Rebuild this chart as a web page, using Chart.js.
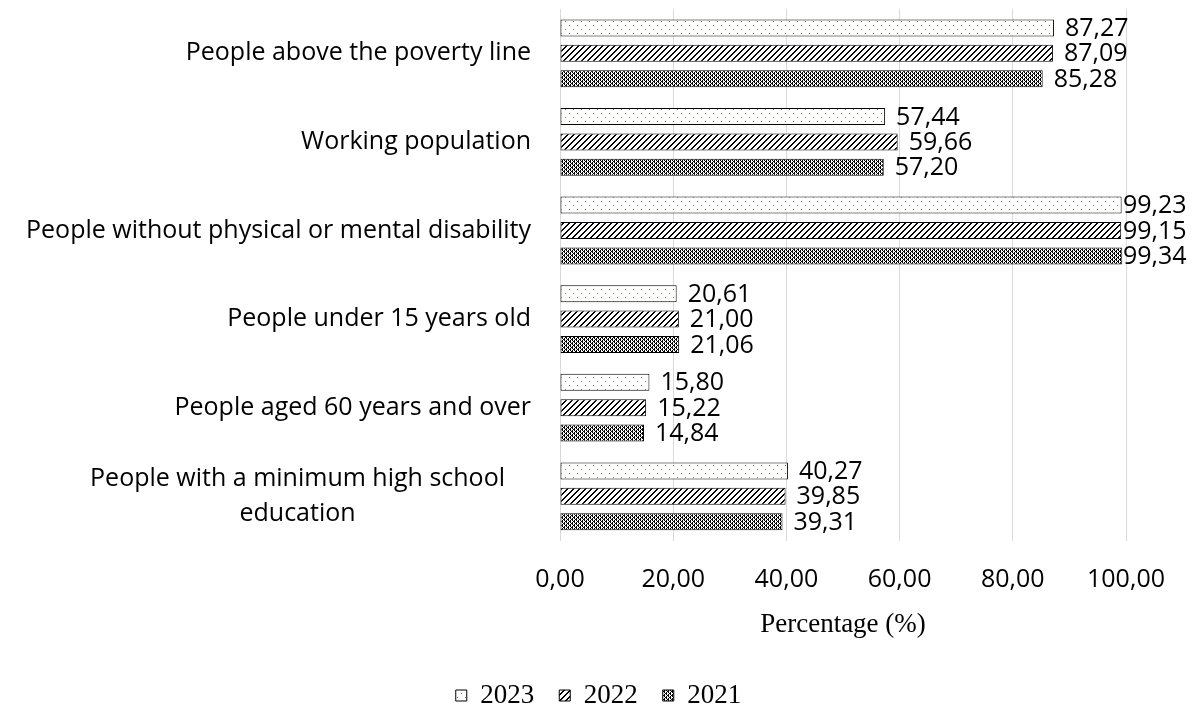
<!DOCTYPE html>
<html>
<head>
<meta charset="utf-8">
<script src="https://cdn.jsdelivr.net/npm/chart.js@4.4.1/dist/chart.umd.min.js"></script>
<style>
  html, body { margin: 0; padding: 0; background: #fff; }
  #wrap { width: 1197px; height: 707px; position: relative; }
</style>
</head>
<body>
<div id="wrap"><canvas id="chart"></canvas></div>
<script>
// categories, top to bottom
const categories = [
  'People above the poverty line',
  'Working population',
  'People without physical or mental disability',
  'People under 15 years old',
  'People aged 60 years and over',
  ['People with a minimum high school', 'education']
];
const years = ['2023', '2022', '2021'];
const values2023 = [87.27, 57.44, 99.23, 20.61, 15.80, 40.27];
const values2022 = [87.09, 59.66, 99.15, 21.00, 15.22, 39.85];
const values2021 = [85.28, 57.20, 99.34, 21.06, 14.84, 39.31];
const xTicks = [0, 20, 40, 60, 80, 100];

const LABEL_FONT = '"Open Sans", Lato, sans-serif';
const SERIF_FONT = '"Liberation Serif", "Times New Roman", serif';

// small canvas patterns, Excel-like fills
function makePattern(size, drawTile) {
  const c = document.createElement('canvas');
  c.width = size; c.height = size;
  const g = c.getContext('2d');
  g.fillStyle = '#fff';
  g.fillRect(0, 0, size, size);
  drawTile(g, size);
  return document.getElementById('chart').getContext('2d').createPattern(c, 'repeat');
}

const dotsFill = makePattern(8, (g) => {
  g.fillStyle = '#8a7b4c';
  g.fillRect(1, 1, 1, 1);
  g.fillRect(5, 5, 1, 1);
});

const hatchFill = makePattern(6, (g, s) => {
  g.fillStyle = '#000';
  for (let y = 0; y < s; y++) {
    const x = (s - 1 - y);
    g.fillRect(x, y, 2, 1);
    if (x + 1 >= s) g.fillRect(0, y, 1, 1);
  }
});

const checkFill = makePattern(4, (g) => {
  g.fillStyle = '#000';
  g.fillRect(0, 0, 1, 1);
  g.fillRect(2, 0, 1, 1);
  g.fillRect(1, 1, 2, 1);
  g.fillRect(0, 2, 1, 1);
  g.fillRect(2, 2, 1, 1);
  g.fillRect(3, 3, 1, 1);
  g.fillRect(0, 3, 1, 1);
});

const fmt = (v) => v.toFixed(2).replace('.', ',');

// value labels at the end of each bar
const valueLabels = {
  id: 'valueLabels',
  afterDatasetsDraw(chart) {
    const { ctx, chartArea } = chart;
    ctx.save();
    ctx.font = '25px ' + LABEL_FONT;
    ctx.fillStyle = '#000';
    ctx.textBaseline = 'middle';
    ctx.textAlign = 'left';
    chart.data.datasets.forEach((ds, i) => {
      chart.getDatasetMeta(i).data.forEach((bar, j) => {
        const x = Math.min(bar.x + 11, chartArea.right - 3);
        ctx.fillText(fmt(ds.data[j]), x, bar.y + 1);
      });
    });
    ctx.restore();
  }
};

// category labels: single lines right aligned, wrapped labels centred in a wider block
const categoryLabels = {
  id: 'categoryLabels',
  afterDraw(chart) {
    const { ctx, chartArea } = chart;
    const yScale = chart.scales.y;
    const right = chartArea.left - 29;
    const lineH = 35;
    const wrapExtra = 52;
    ctx.save();
    ctx.font = '25px ' + LABEL_FONT;
    ctx.fillStyle = '#000';
    ctx.textBaseline = 'middle';
    ctx.textAlign = 'center';
    categories.forEach((lab, i) => {
      const lines = Array.isArray(lab) ? lab : [lab];
      const maxW = Math.max(...lines.map(l => ctx.measureText(l).width));
      const blockW = lines.length > 1 ? maxW + wrapExtra : maxW;
      const cy = yScale.getPixelForValue(i);
      const y0 = cy - (lines.length - 1) * lineH / 2;
      lines.forEach((l, k) => ctx.fillText(l, right - blockW / 2, y0 + k * lineH));
    });
    ctx.restore();
  }
};

const fills = [dotsFill, hatchFill, checkFill];
const series = [values2023, values2022, values2021];

new Chart(document.getElementById('chart'), {
  type: 'bar',
  data: {
    labels: categories.map(c => Array.isArray(c) ? c.join(' ') : c),
    datasets: years.map((y, i) => ({
      label: y,
      data: series[i],
      backgroundColor: fills[i],
      borderColor: '#000',
      borderWidth: 1,
      borderSkipped: false,
      categoryPercentage: 0.86,
      barPercentage: 0.67
    }))
  },
  options: {
    indexAxis: 'y',
    responsive: true,
    maintainAspectRatio: false,
    animation: false,
    layout: { padding: { top: 9, right: 71, left: 71, bottom: -12 } },
    plugins: {
      legend: {
        position: 'bottom',
        labels: {
          color: '#000',
          font: { family: SERIF_FONT, size: 27 },
          boxWidth: 11,
          boxHeight: 11,
          padding: 25
        }
      },
      tooltip: { enabled: false }
    },
    scales: {
      x: {
        min: 0,
        max: 100,
        afterBuildTicks: (scale) => { scale.ticks = xTicks.map(v => ({ value: v })); },
        ticks: {
          color: '#000',
          font: { family: LABEL_FONT, size: 25 },
          padding: 24,
          callback: (v) => fmt(v)
        },
        grid: { color: '#d9d9d9', drawTicks: false, lineWidth: 1 },
        border: { display: false },
        title: {
          display: true,
          text: 'Percentage (%)',
          color: '#000',
          font: { family: SERIF_FONT, size: 27 },
          padding: { top: -10, bottom: 16 }
        }
      },
      y: {
        afterFit: (scale) => { scale.width = 489; },
        ticks: { display: false },
        grid: { display: false },
        border: { display: true, color: '#d9d9d9', width: 1 }
      }
    }
  },
  plugins: [valueLabels, categoryLabels]
});
</script>
</body>
</html>
